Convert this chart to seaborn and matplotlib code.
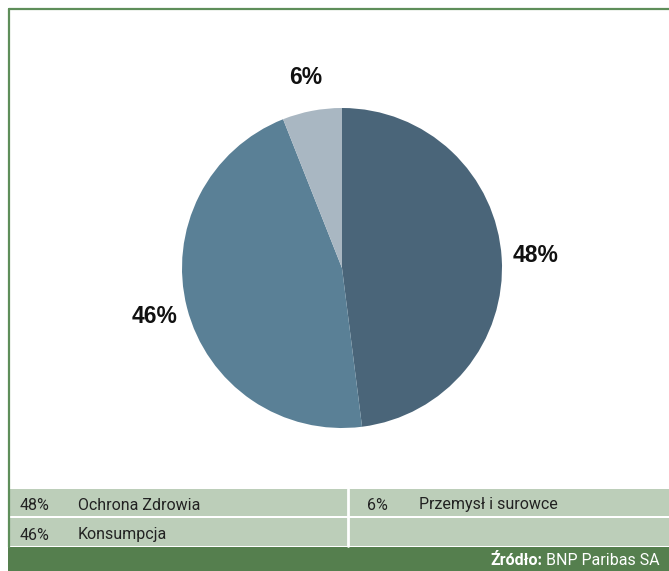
import matplotlib
matplotlib.use("Agg")
import matplotlib.pyplot as plt
from matplotlib.patches import Rectangle
import seaborn as sns

# Dane
sectors = ["Ochrona Zdrowia", "Konsumpcja", "Przemysł i surowce"]
shares = [48, 46, 6]
pie_colors = ["#4A6579", "#5A8096", "#A9B7C2"]
source_bold = "Źródło:"
source_text = "BNP Paribas SA"

sns.set_style("white")
plt.rcParams['font.family'] = ['Liberation Sans', 'DejaVu Sans']

W, H = 669, 571
fig = plt.figure(figsize=(W / 100, H / 100), dpi=100)

# tło w pikselach (y od góry)
bg = fig.add_axes([0, 0, 1, 1])
bg.set_xlim(0, W)
bg.set_ylim(H, 0)
bg.axis('off')

green_line = "#5E8E5A"
table_bg = "#BCCEB9"
footer_bg = "#557F4E"

# ramka
bg.plot([9, W], [8.5, 8.5], color=green_line, lw=1.6)
bg.plot([9, 9], [8.5, 547], color=green_line, lw=1.6)

# tabela legendy
bg.add_patch(Rectangle((9, 489), W - 9, 27, color=table_bg, lw=0))
bg.add_patch(Rectangle((9, 518), W - 9, 28, color=table_bg, lw=0))
bg.plot([348, 348], [489, 546], color="white", lw=2)
bg.add_patch(Rectangle((8, 547), W - 8, H - 547, color=footer_bg, lw=0))

tfont = dict(fontsize=11.5, color="#222222", va="baseline", family="Roboto")
cells = [(20, 78, 509.5, 0), (20, 78, 539.5, 1), (367, 419, 509.5, 2)]
for xp, xl, y, i in cells:
    bg.text(xp, y, f"{shares[i]}%", **tfont)
    bg.text(xl, y, sectors[i], **tfont)

# stopka ze źródłem
ffont = dict(fontsize=11.5, color="white", va="baseline", family="Roboto")
t2 = bg.text(660, 565, source_text, ha="right", **ffont)
fig.canvas.draw()
x_left = bg.transData.inverted().transform((t2.get_window_extent().x0 - 4, 0))[0]
bg.text(x_left, 565, source_bold, ha="right", fontweight="bold", **ffont)

# wykres kołowy
cx, cy, r = 342, 268, 160
ax = fig.add_axes([(cx - r) / W, (H - cy - r) / H, 2 * r / W, 2 * r / H])
wedges, texts, autotexts = ax.pie(
    shares, colors=pie_colors, startangle=90, counterclock=False,
    autopct=lambda p: f"{p:.0f}%", pctdistance=1.21,
    wedgeprops=dict(linewidth=0),
    textprops=dict(fontsize=16.5, fontweight="bold", color="#111111"))
ax.set_xlim(-1, 1)
ax.set_ylim(-1, 1)
ax.set_aspect('equal')

fig.savefig("out.png", dpi=100)
